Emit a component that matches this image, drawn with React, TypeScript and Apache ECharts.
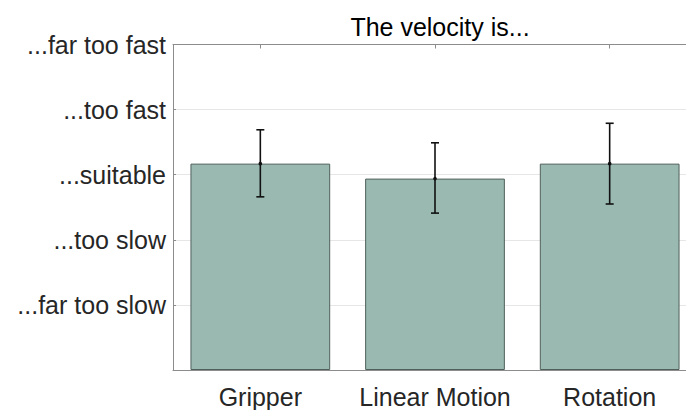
import React, { useEffect, useRef } from "react";
import * as echarts from "echarts";

const categories = ["Gripper", "Linear Motion", "Rotation"];
const means = [3.17, 2.94, 3.17];
const lower = [2.66, 2.41, 2.55];
const upper = [3.69, 3.49, 3.79];
const yTickLabels = ["", "...far too slow", "...too slow", "...suitable", "...too fast", "...far too fast"];
const title = "The velocity is...";

export default function App() {
  const ref = useRef<HTMLDivElement>(null);
  useEffect(() => {
    const chart = echarts.init(ref.current!, undefined, { renderer: "svg" });
    const font = "Liberation Sans";
    const errData = categories.map((c, i) => [i, lower[i], upper[i], means[i]]);
    chart.setOption({
      animation: false,
      backgroundColor: "#ffffff",
      title: {
        text: title,
        left: 435,
        top: 9,
        textAlign: "center",
        textStyle: { fontFamily: font, fontSize: 25, fontWeight: "normal", color: "#000000" },
      },
      grid: { left: 173, top: 44.5, width: 524, height: 325.5, containLabel: false },
      xAxis: [
        {
          type: "category",
          data: categories,
          position: "bottom",
          axisLine: { show: true, lineStyle: { color: "#8c8c8c", width: 1 } },
          axisTick: { show: false },
          axisLabel: { fontFamily: font, fontSize: 25, color: "#262626", margin: 14, interval: 0 },
          splitLine: { show: false },
        },
        {
          type: "category",
          data: categories,
          position: "top",
          axisLine: { show: true, lineStyle: { color: "#8c8c8c", width: 1 } },
          axisTick: { show: true, inside: true, alignWithLabel: true, interval: 0, length: 4, lineStyle: { color: "#8c8c8c" } },
          axisLabel: { show: false },
          splitLine: { show: false },
        },
      ],
      yAxis: {
        type: "value",
        min: 0,
        max: 5,
        interval: 1,
        axisLine: { show: true, lineStyle: { color: "#8c8c8c", width: 1 } },
        axisTick: { show: true, inside: true, length: 3, lineStyle: { color: "#8c8c8c" } },
        axisLabel: {
          fontFamily: font,
          fontSize: 25,
          color: "#262626",
          margin: 7,
          formatter: (v: number) => yTickLabels[Math.round(v)] ?? "",
        },
        splitLine: { show: true, lineStyle: { color: "#e6e6e6", width: 1 } },
      },
      series: [
        {
          type: "bar",
          xAxisIndex: 0,
          data: means,
          barWidth: "80%",
          itemStyle: { color: "#99b9b1", borderColor: "#4f5f5a", borderWidth: 1 },
          z: 2,
        },
        {
          type: "custom",
          xAxisIndex: 0,
          data: errData,
          z: 5,
          renderItem: (params: any, api: any) => {
            const x = api.value(0);
            const lo = api.coord([x, api.value(1)]);
            const hi = api.coord([x, api.value(2)]);
            const m = api.coord([x, api.value(3)]);
            const cap = 4;
            const style = { stroke: "#111111", lineWidth: 1.6 };
            return {
              type: "group",
              children: [
                { type: "line", shape: { x1: lo[0], y1: lo[1], x2: hi[0], y2: hi[1] }, style },
                { type: "line", shape: { x1: lo[0] - cap, y1: lo[1], x2: lo[0] + cap, y2: lo[1] }, style },
                { type: "line", shape: { x1: hi[0] - cap, y1: hi[1], x2: hi[0] + cap, y2: hi[1] }, style },
                { type: "circle", shape: { cx: m[0], cy: m[1], r: 1.8 }, style: { fill: "#111111" } },
              ],
            };
          },
        },
      ],
    });
    return () => chart.dispose();
  }, []);
  return (
    <div style={{ position: "absolute", left: 0, top: 0, width: 686, height: 410, overflow: "hidden" }}>
      <div ref={ref} style={{ width: 720, height: 410 }} />
    </div>
  );
}
